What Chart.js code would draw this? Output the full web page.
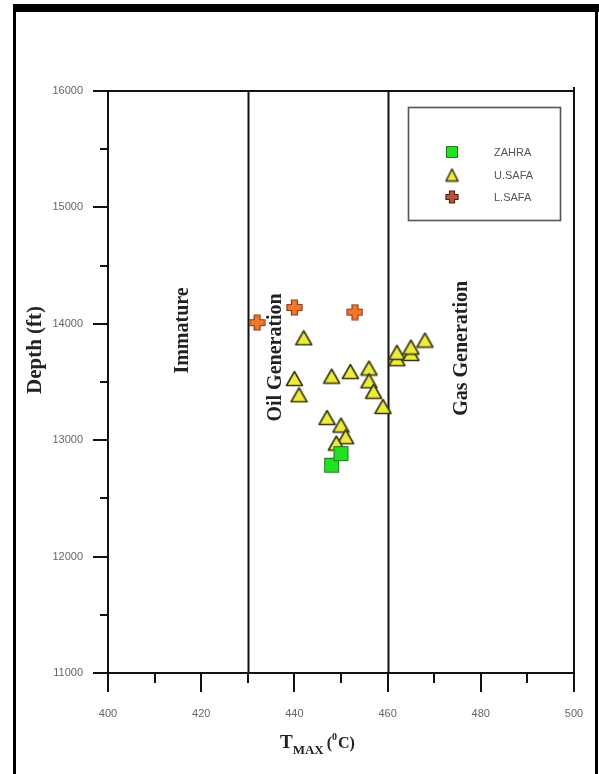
<!DOCTYPE html>
<html>
<head>
<meta charset="utf-8">
<script src="https://cdn.jsdelivr.net/npm/chart.js@4.4.1/dist/chart.umd.min.js"></script>
<style>
  html, body { margin: 0; padding: 0; background: #fff; }
  #wrap { width: 599px; height: 774px; position: relative; }
</style>
</head>
<body>
<div id="wrap"><canvas id="c" width="599" height="774"></canvas></div>
<script>
// Tmax (°C) versus depth (ft) for the three formations
const seriesNames = ['ZAHRA', 'U.SAFA', 'L.SAFA'];

const zahraTmax  = [448, 450];
const zahraDepth = [12785, 12885];

const uSafaTmax  = [442, 440, 441, 448, 452, 456, 456, 457, 459, 447, 450, 451, 449, 462, 462, 465, 465, 468];
const uSafaDepth = [13880, 13530, 13390, 13550, 13590, 13620, 13510, 13420, 13290, 13195, 13130, 13030, 12975, 13700, 13755, 13745, 13800, 13860];

const lSafaTmax  = [432, 440, 453];
const lSafaDepth = [14010, 14140, 14100];

// axis ranges and tick values
const xTickValues = [400, 420, 440, 460, 480, 500];
const yTickValues = [11000, 12000, 13000, 14000, 15000, 16000];

// maturity zone boundaries (Tmax) and zone names
const zoneBounds = [430, 460];
const zoneNames = ['Immature', 'Oil Generation', 'Gas Generation'];

function pairs(xs, ys) { return xs.map((x, i) => ({ x: x, y: ys[i] })); }

// ---- marker sprites ----
function squareSprite(s) {
  const c = document.createElement('canvas');
  c.width = s + 2; c.height = s + 2;
  const g = c.getContext('2d');
  g.fillStyle = '#22e022';
  g.fillRect(1, 1, s, s);
  g.strokeStyle = '#1c7a1c';
  g.lineWidth = 1;
  g.strokeRect(1.5, 1.5, s - 1, s - 1);
  return c;
}
function triangleSprite(w, h) {
  const c = document.createElement('canvas');
  c.width = w + 3; c.height = h + 3;
  const g = c.getContext('2d');
  g.beginPath();
  g.moveTo(c.width / 2, 1.5);
  g.lineTo(c.width - 1.5, c.height - 1.5);
  g.lineTo(1.5, c.height - 1.5);
  g.closePath();
  g.fillStyle = '#ecec3e';
  g.fill();
  g.strokeStyle = '#3a3510';
  g.lineWidth = 1.6;
  g.lineJoin = 'round';
  g.stroke();
  return c;
}
function plusSprite(s, arm, fill, edge) {
  const c = document.createElement('canvas');
  c.width = s + 2; c.height = s + 2;
  const g = c.getContext('2d');
  const o = 1, a = (s - arm) / 2;
  g.beginPath();
  g.moveTo(o + a, o); g.lineTo(o + a + arm, o);
  g.lineTo(o + a + arm, o + a); g.lineTo(o + s, o + a);
  g.lineTo(o + s, o + a + arm); g.lineTo(o + a + arm, o + a + arm);
  g.lineTo(o + a + arm, o + s); g.lineTo(o + a, o + s);
  g.lineTo(o + a, o + a + arm); g.lineTo(o, o + a + arm);
  g.lineTo(o, o + a); g.lineTo(o + a, o + a);
  g.closePath();
  g.fillStyle = fill;
  g.fill();
  g.strokeStyle = edge;
  g.lineWidth = 1.2;
  g.stroke();
  return c;
}

const markers = [squareSprite(15), triangleSprite(16, 14), plusSprite(15, 6, '#f2772c', '#8a3a18')];
const legendMarkers = [squareSprite(12), triangleSprite(12, 12), plusSprite(12, 5, '#b0583a', '#5a2010')];

const serif = '"Liberation Serif", "Times New Roman", serif';
const sans = '"Liberation Sans", Arial, sans-serif';

// ---- frame, axes, ticks, zone lines and titles ----
const framePlugin = {
  id: 'frame',
  beforeDraw(chart) {
    const g = chart.ctx;
    g.save();
    g.fillStyle = '#fff';
    g.fillRect(0, 0, chart.width, chart.height);
    g.fillStyle = '#000';
    g.fillRect(13, 4, 586, 8);     // top band
    g.fillRect(13, 4, 3, 770);     // left edge
    g.fillRect(595, 4, 3, 770);    // right edge
    g.restore();
  },
  beforeDatasetsDraw(chart) {
    const g = chart.ctx, xs = chart.scales.x, ys = chart.scales.y;
    const a = chart.chartArea;
    g.save();
    g.strokeStyle = '#111';
    g.lineWidth = 2;
    g.lineCap = 'butt';
    // box
    g.beginPath();
    g.moveTo(a.left, a.top); g.lineTo(a.right, a.top);
    g.moveTo(a.left, a.top); g.lineTo(a.left, a.bottom);
    g.moveTo(a.left, a.bottom); g.lineTo(a.right, a.bottom);
    g.moveTo(a.right, a.top - 4); g.lineTo(a.right, a.bottom);
    g.stroke();
    // zone boundaries
    g.beginPath();
    zoneBounds.forEach(v => {
      const px = Math.round(xs.getPixelForValue(v)) + 0.5;
      g.moveTo(px, a.top); g.lineTo(px, a.bottom);
    });
    g.stroke();
    // y ticks: major every 1000, minor between
    g.beginPath();
    for (let v = ys.min; v <= ys.max; v += 500) {
      const py = Math.round(ys.getPixelForValue(v));
      const major = v % 1000 === 0;
      g.moveTo(a.left - (major ? 15 : 8), py); g.lineTo(a.left, py);
    }
    // x ticks: major every 20, minor between
    for (let v = xs.min; v <= xs.max; v += 10) {
      const px = Math.round(xs.getPixelForValue(v));
      const major = v % 20 === 0;
      g.moveTo(px, a.bottom); g.lineTo(px, a.bottom + (major ? 19 : 10));
    }
    g.stroke();

    // zone names, rotated, reading upward
    const zoneAnchors = [[416, 13943], [436, 13711], [476, 13789]];
    g.fillStyle = '#222';
    g.font = 'bold 20px ' + serif;
    g.textAlign = 'center';
    g.textBaseline = 'middle';
    zoneNames.forEach((name, i) => {
      const px = xs.getPixelForValue(zoneAnchors[i][0]);
      const py = ys.getPixelForValue(zoneAnchors[i][1]);
      g.save();
      g.translate(px, py);
      g.rotate(-Math.PI / 2);
      g.fillText(name, 0, 0);
      g.restore();
    });

    // y title
    g.save();
    g.translate(36, 350);
    g.rotate(-Math.PI / 2);
    g.font = 'bold 21px ' + serif;
    g.fillStyle = '#222';
    g.fillText('Depth (ft)', 0, 0);
    g.restore();

    // x title: T with MAX subscript, (0C) with superscript 0
    g.textAlign = 'left';
    g.textBaseline = 'alphabetic';
    g.fillStyle = '#222';
    let x = 280;
    const base = 748;
    g.font = 'bold 19px ' + serif;
    g.fillText('T', x, base); x += g.measureText('T').width;
    g.font = 'bold 13px ' + serif;
    g.fillText('MAX', x, base + 6); x += g.measureText('MAX').width + 3;
    g.font = 'bold 16px ' + serif;
    g.fillText('(', x, base); x += g.measureText('(').width;
    g.font = 'bold 10px ' + serif;
    g.fillText('0', x, base - 8); x += g.measureText('0').width + 1;
    g.font = 'bold 16px ' + serif;
    g.fillText('C)', x, base);
    g.restore();
  },
  afterDatasetsDraw(chart) {
    // legend box
    const g = chart.ctx;
    g.save();
    g.strokeStyle = '#555';
    g.lineWidth = 1.6;
    g.strokeRect(408.5, 107.5, 152, 113);
    const rows = [152, 175, 197];
    g.font = '11px ' + sans;
    g.fillStyle = '#555';
    g.textAlign = 'left';
    g.textBaseline = 'middle';
    seriesNames.forEach((name, i) => {
      const m = legendMarkers[i];
      g.drawImage(m, 452 - m.width / 2, rows[i] - m.height / 2);
      g.fillText(name, 494, rows[i] + 1);
    });
    g.restore();
  }
};

const tickFont = { family: sans, size: 11 };
const plainNumber = v => String(v);

new Chart(document.getElementById('c'), {
  type: 'scatter',
  data: {
    datasets: [
      { label: seriesNames[0], data: pairs(zahraTmax, zahraDepth), pointStyle: markers[0] },
      { label: seriesNames[1], data: pairs(uSafaTmax, uSafaDepth), pointStyle: markers[1] },
      { label: seriesNames[2], data: pairs(lSafaTmax, lSafaDepth), pointStyle: markers[2] }
    ]
  },
  options: {
    responsive: false,
    animation: false,
    devicePixelRatio: 1,
    layout: { padding: { left: 0, top: 91, right: 25, bottom: 0 } },
    plugins: { legend: { display: false }, tooltip: { enabled: false } },
    scales: {
      x: {
        type: 'linear', min: 400, max: 500,
        afterBuildTicks: s => { s.ticks = xTickValues.map(v => ({ value: v })); },
        afterFit: s => { s.height = 101; s.paddingLeft = 0; s.paddingRight = 0; },
        ticks: { font: tickFont, color: '#666', padding: 34, callback: plainNumber },
        grid: { display: false, drawTicks: false },
        border: { display: false }
      },
      y: {
        type: 'linear', min: 11000, max: 16000,
        afterBuildTicks: s => { s.ticks = yTickValues.map(v => ({ value: v })); },
        afterFit: s => { s.width = 108; s.paddingTop = 0; s.paddingBottom = 0; },
        ticks: { font: tickFont, color: '#666', padding: 25, callback: plainNumber },
        grid: { display: false, drawTicks: false },
        border: { display: false }
      }
    }
  },
  plugins: [framePlugin]
});
</script>
</body>
</html>
